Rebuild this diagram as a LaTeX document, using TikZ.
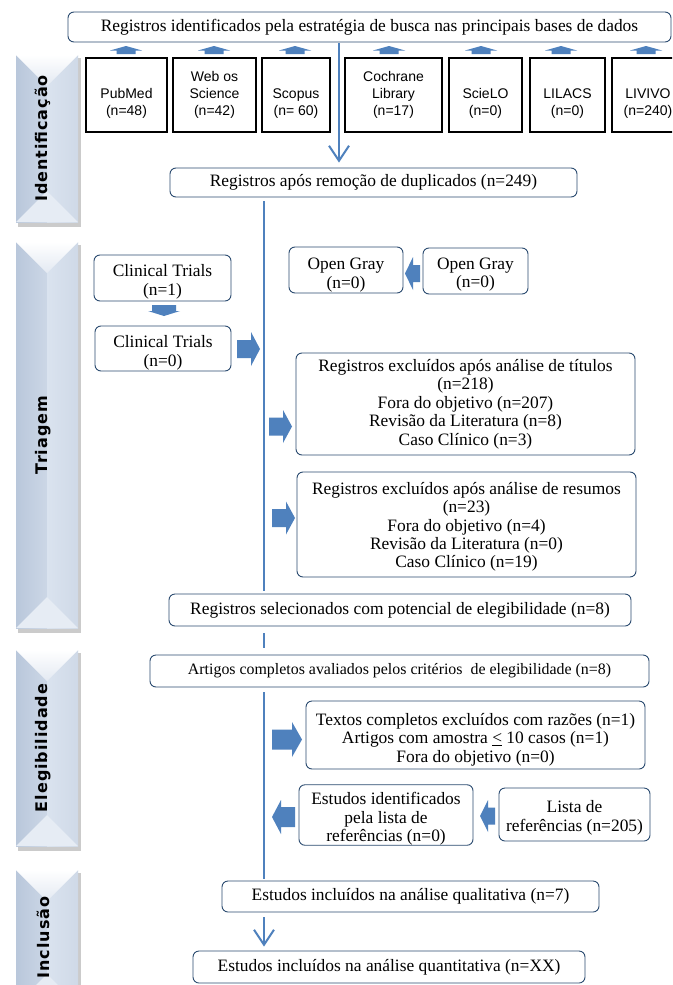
\documentclass[tikz,border=0pt]{standalone}
\usepackage{fontspec}
\setmainfont{Liberation Serif}
\newfontfamily\dbfont{Liberation Sans}
\newfontfamily\tabfont{DejaVu Sans}[LetterSpace=6]
\usetikzlibrary{arrows.meta}
\definecolor{arrowblue}{HTML}{4F81BD}
\definecolor{boxblue}{HTML}{2B4B70}
\definecolor{tabdark}{HTML}{B9C7DB}
\definecolor{tabmidc}{HTML}{CCD7E6}
\definecolor{tablight}{HTML}{DAE3EF}
\definecolor{tabright}{HTML}{CFD9E7}
\definecolor{tabtop}{HTML}{E3E9F2}
\definecolor{tabbot}{HTML}{E6ECF4}
\newcommand{\lowr}[1]{\rule{0pt}{#1pt}}
\tikzset{
  rbox/.style={draw=boxblue, rounded corners=6pt, line width=0.9pt, fill=white,
    inner sep=0pt, align=center, font=\fontsize{17.4}{18.4}\selectfont},
  dbbox/.style={draw=black, line width=1.1pt, fill=white, inner sep=0pt, align=center,
    minimum height=74pt, font=\dbfont\fontsize{14}{17}\selectfont},
  vline/.style={draw=arrowblue, line width=2pt},
  vtip/.style={-{Straight Barb[length=15pt,width=20pt]}},
  tablabel/.style={rotate=90, inner sep=0pt, font=\tabfont\bfseries\fontsize{16}{18}\selectfont}
}
\newcommand{\blkarrow}[7]{%
  \fill[arrowblue, shift={(#1,#2)}, rotate=#3]
    ({-(#4)/2},{-(#6)/2}) -- ({(#4)/2-(#7)},{-(#6)/2}) -- ({(#4)/2-(#7)},{-(#5)/2})
    -- ({(#4)/2},0) -- ({(#4)/2-(#7)},{(#5)/2}) -- ({(#4)/2-(#7)},{(#6)/2})
    -- ({-(#4)/2},{(#6)/2}) -- cycle;}
\newcommand{\sidetab}[6]{%
  \pgfmathsetmacro\tabmid{(#2+#4)/2}%
  \pgfmathsetmacro\tabhw{(#4-#2)/2}%
  \fill[black!40, opacity=.5] (#2+2,#3+3) rectangle (#4+3,#5+5);
  \fill[tabmidc] (#2,#3) rectangle (#4,#5);
  \shade[left color=tabdark, right color=tabmidc] (#2,#3) rectangle (\tabmid,#5);
  \shade[left color=tablight, right color=tabright] (\tabmid,#3) rectangle (#4,#5);
  \shade[top color=white, bottom color=tabtop] (#2,#3) -- (#4,#3) -- (\tabmid,{#3+\tabhw}) -- cycle;
  \fill[tabbot] (#2,#5) -- (#4,#5) -- (\tabmid,{#5-\tabhw}) -- cycle;
  \node[tablabel] (#1) at (43,{(#3+#5)/2}) {#6};
}
\begin{document}
\begin{tikzpicture}[x=1pt,y=-1pt]
\useasboundingbox (0,0) rectangle (672,985);
\clip (0,0) rectangle (672,985);
\fill[white] (0,0) rectangle (672,985);

% side tabs
\sidetab{tabid}{16}{55}{78}{222}{Identificação}
\sidetab{tabtri}{16}{242}{78}{628}{Triagem}
\sidetab{tabele}{16}{650}{78}{846}{Elegibilidade}
\sidetab{tabinc}{16}{870}{78}{1005}{Inclusão}

% identification
\node[rbox, minimum width=603pt, minimum height=30pt] (top) at (369.5,27)
  {Registros identificados pela estratégia de busca nas principais bases de dados};
\node[dbbox, minimum width=81pt] (pubmed) at (126.5,95) {\lowr{10}\\PubMed\\(n=48)};
\node[dbbox, minimum width=83pt] (wos) at (214.5,95) {Web os\\Science\\(n=42)};
\node[dbbox, minimum width=68pt] (scopus) at (296,95) {\lowr{10}\\Scopus\\(n= 60)};
\node[dbbox, minimum width=97pt] (cochrane) at (393.5,95) {Cochrane\\Library\\(n=17)};
\node[dbbox, minimum width=73pt] (scielo) at (485.5,95) {\lowr{10}\\ScieLO\\(n=0)};
\node[dbbox, minimum width=75pt] (lilacs) at (567.5,95) {\lowr{10}\\LILACS\\(n=0)};
\node[dbbox, minimum width=72pt] (livivo) at (648,95) {\lowr{10}\\LIVIVO\\(n=240)};
\foreach \ax in {126,214,295,389,481,561,646}{\blkarrow{\ax}{50}{90}{8}{32}{19}{4.5}}

\node[rbox, minimum width=407pt, minimum height=29pt] (dup) at (373.5,182.5)
  {Registros após remoção de duplicados (n=249)};
\coordinate (lx) at (339,0);
\coordinate (mx) at (264,0);
\draw[vline, vtip, shorten <=1pt, shorten >=5pt] (top.south -| lx) -- (dup.north -| lx);

% screening
\node[rbox, minimum width=137pt, minimum height=46pt] (ct1) at (162.5,278) {\lowr{20}Clinical Trials\\(n=1)};
\node[rbox, minimum width=136pt, minimum height=45pt] (ct2) at (163,348.5) {\lowr{21}Clinical Trials\\(n=0)};
\blkarrow{164}{310.5}{-90}{11}{32}{24}{5}
\blkarrow{248.5}{349}{0}{23}{34}{18}{9}

\node[rbox, minimum width=114pt, minimum height=46pt] (og1) at (346,270) {\lowr{22}Open Gray\\(n=0)};
\node[rbox, minimum width=105pt, minimum height=46pt] (og2) at (475.5,271) {\lowr{19}Open Gray\\(n=0)};
\blkarrow{412.5}{273.5}{180}{15}{33}{17}{8}

\node[rbox, minimum width=339pt, minimum height=102pt] (titles) at (465.5,404)
  {Registros excluídos após análise de títulos\\(n=218)\\Fora do objetivo (n=207)\\Revisão da Literatura (n=8)\\Caso Clínico (n=3)};
\blkarrow{280.5}{426.5}{0}{23}{33}{18}{9}

\node[rbox, minimum width=339pt, minimum height=105pt] (abstr) at (466.5,524.5)
  {\lowr{17}Registros excluídos após análise de resumos\\(n=23)\\Fora do objetivo (n=4)\\Revisão da Literatura (n=0)\\Caso Clínico (n=19)};
\blkarrow{283.5}{518}{0}{23}{33}{18}{9}

\node[rbox, minimum width=462pt, minimum height=32pt] (sel) at (400,610)
  {Registros selecionados com potencial de elegibilidade (n=8)};
\draw[vline, shorten <=4pt, shorten >=3pt] (dup.south -| mx) -- (sel.north -| mx);

% eligibility
\node[rbox, minimum width=499pt, minimum height=32pt, font=\fontsize{15.9}{17}\selectfont] (art) at (399.5,671)
  {Artigos completos avaliados pelos critérios\ \ de elegibilidade (n=8)};
\draw[vline, shorten <=7pt, shorten >=7pt] (sel.south -| mx) -- (art.north -| mx);

\node[rbox, minimum width=339pt, minimum height=68pt] (texts) at (475.5,735)
  {\lowr{21}Textos completos excluídos com razões (n=1)\\Artigos com amostra \underline{<} 10 casos (n=1)\\Fora do objetivo (n=0)};
\blkarrow{287}{739.5}{0}{30}{35}{20}{10}

\node[rbox, minimum width=174pt, minimum height=60pt] (estud) at (386,815)
  {\lowr{20}Estudos identificados\\pela lista de\\referências (n=0)};
\node[rbox, minimum width=151pt, minimum height=53pt] (lista) at (574.5,814.5)
  {\lowr{19}Lista de\\referências (n=205)};
\blkarrow{283.5}{817}{180}{23}{34}{20}{9}
\blkarrow{487.5}{816}{180}{15}{32}{17}{8}

% inclusion
\node[rbox, minimum width=377pt, minimum height=31pt] (qual) at (410.5,896.5)
  {Estudos incluídos na análise qualitativa (n=7)};
\node[rbox, minimum width=392pt, minimum height=32pt] (quant) at (389,967)
  {Estudos incluídos na análise quantitativa (n=XX)};
\draw[vline, shorten <=5pt, shorten >=2pt] (art.south -| mx) -- (qual.north -| mx);
\draw[vline, vtip, shorten <=5pt, shorten >=4pt] (qual.south -| mx) -- (quant.north -| mx);
\end{tikzpicture}
\end{document}
